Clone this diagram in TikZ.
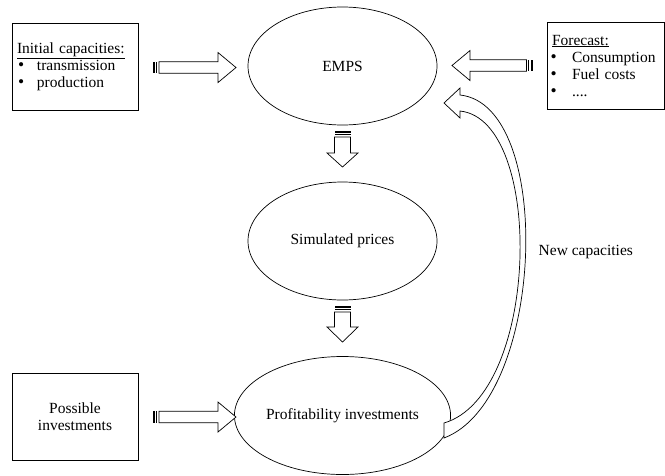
\documentclass[tikz,border=0pt]{standalone}
\usepackage{fontspec}
\setmainfont{Liberation Serif}
\usetikzlibrary{shapes.geometric}
\newcommand\bigbul{\raisebox{-0.6pt}{\fontsize{17.5}{17}\selectfont\textbullet}}
% horizontal block arrow: #1 centre y, #2 tail x, #3 head base x, #4 tip x, #5 sign (+1 right, -1 left)
\newcommand\hblkarrow[5]{%
  \draw[blockarrow] (#2,#1-5.8) -- (#3,#1-5.8) -- (#3,#1-15) -- (#4,#1) -- (#3,#1+15)
    -- (#3,#1+5.8) -- (#2,#1+5.8) -- cycle;
  \fill ({#2-#5*6},#1-5.8) rectangle ({#2-#5*4},#1+5.8);
  \fill ({#2-#5*2.8},#1-5.8) rectangle ({#2-#5*1.7},#1+5.8);
}
% vertical (downward) block arrow: #1 centre x, #2 tail y, #3 head base y, #4 tip y
\newcommand\vblkarrow[4]{%
  \draw[blockarrow] (#1-8,#2) -- (#1-8,#3) -- (#1-15.5,#3) -- (#1,#4) -- (#1+15.5,#3)
    -- (#1+8,#3) -- (#1+8,#2) -- cycle;
  \fill (#1-8,#2-6) rectangle (#1+8,#2-4);
  \fill (#1-8,#2-2.8) rectangle (#1+8,#2-1.7);
}
\begin{document}
\begin{tikzpicture}[x=1pt,y=-1pt,line width=0.7pt,
  every node/.style={font=\fontsize{15.5}{17}\selectfont},
  oval/.style={draw,ellipse,minimum width=189pt,minimum height=118pt,inner sep=0pt},
  infobox/.style={draw,rectangle,minimum height=87pt,inner sep=0pt},
  blockarrow/.style={draw,fill=white,line join=miter}]
\useasboundingbox (0,0) rectangle (665,475);

% ovals
\node[oval] (emps) at (342.5,66) {EMPS};
\node[oval] (sim) at (342.5,241) {Simulated prices};
\node[oval] (prof) at (342.5,415.5) {Profitability investments};

% boxes
\node[infobox,minimum width=126pt,text width=116pt,align=left] (init) at (75,66.5)
  {\underline{Initial capacities:}\\
   \hspace*{1pt}\makebox[19pt][l]{\bigbul}transmission\\
   \hspace*{1pt}\makebox[19pt][l]{\bigbul}production};
\node[infobox,minimum width=117.5pt,text width=110.5pt,align=left] (fore) at (605.75,65.75)
  {\hspace*{1.5pt}\underline{Forecast:}\\
   \makebox[21.5pt][l]{\bigbul}Consumption\\
   \makebox[21.5pt][l]{\bigbul}Fuel costs\\
   \makebox[21.5pt][l]{\bigbul}....};
\node[infobox,minimum width=126pt,align=center] (poss) at (75,416.5)
  {Possible\\investments};

% block arrows
\hblkarrow{67.5}{159}{218}{236}{1}
\hblkarrow{417}{159}{218}{236}{1}
\hblkarrow{65.5}{526.5}{470}{452}{-1}
\vblkarrow{342.5}{137}{153}{167}
\vblkarrow{342.5}{312}{327}{342}

% curved feedback arrow
\coordinate (ctin) at (444,423);
\coordinate (ctout) at (444,438);
\coordinate (chin) at (460,111);
\coordinate (chout) at (460,95);
\coordinate (ctip) at (444,103);
\draw[fill=white] (ctin) .. controls (540,395) and (545,120) .. (chin)
  -- (460,118) -- (ctip) -- (460,88) -- (chout)
  .. controls (555,105) and (545,400) .. (ctout) -- cycle;

\node[anchor=west] (newcap) at (535,252) {New capacities};
\end{tikzpicture}
\end{document}
